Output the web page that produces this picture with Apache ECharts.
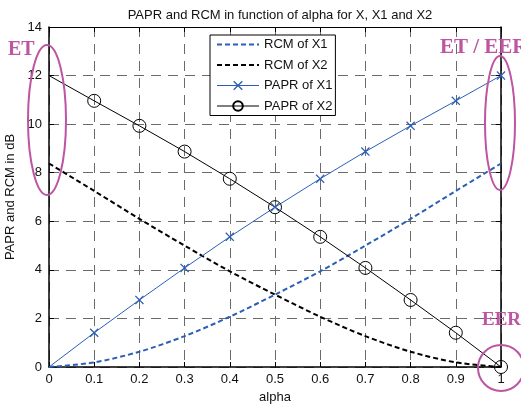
<!DOCTYPE html>
<html><head><meta charset="utf-8">
<script src="https://cdn.jsdelivr.net/npm/echarts@6/dist/echarts.min.js"></script>
<style>html,body{margin:0;padding:0;background:#fff}#c{width:521px;height:407px}</style>
</head><body><div id="c"></div>
<script>
var alpha = [0, 0.1, 0.2, 0.3, 0.4, 0.5, 0.6, 0.7, 0.8, 0.9, 1];
var rcmX1 = [0, 0.19, 0.63, 1.27, 2.07, 2.98, 3.94, 5.0, 6.1, 7.25, 8.38];
var rcmX2 = [8.38, 7.25, 6.1, 5.0, 3.94, 2.98, 2.07, 1.27, 0.63, 0.19, 0];
var paprX1 = [0, 1.41, 2.76, 4.08, 5.36, 6.58, 7.75, 8.87, 9.93, 10.96, 12.0];
var paprX2 = [12.0, 10.96, 9.93, 8.87, 7.75, 6.58, 5.36, 4.08, 2.76, 1.41, 0];
var seriesNames = ['RCM of X1', 'RCM of X2', 'PAPR of X1', 'PAPR of X2'];

var FONT = 'Liberation Sans';
var BLUE = '#2b5fb4';
var MAG = '#bd55a2';
var crossPath = 'path://M0,1L1,0L5,4L9,0L10,1L6,5L10,9L9,10L5,6L1,10L0,9L4,5Z';

function pairs(ys, markerFromIndex) {
  return alpha.map(function (a, i) {
    var d = { value: [a, ys[i]] };
    if (markerFromIndex !== undefined && i < markerFromIndex) d.symbol = 'none';
    return d;
  });
}

var chart = echarts.init(document.getElementById('c'), null, { renderer: 'canvas' });
var gridLine = { show: true, lineStyle: { color: '#6a6a6a', type: [10, 7], width: 1 } };
var hiddenIcon = { color: 'rgba(0,0,0,0)', borderColor: 'rgba(0,0,0,0)', borderWidth: 0 };
var option = {
  animation: false,
  backgroundColor: '#fff',
  title: {
    text: 'PAPR and RCM in function of alpha for X, X1 and X2',
    left: 275, top: 4, textAlign: 'center',
    textStyle: { fontFamily: FONT, fontSize: 13, fontWeight: 'normal', color: '#111' }
  },
  grid: { left: 49, right: 20, top: 27, bottom: 40, outerBoundsMode: 'none', containLabel: false },
  legend: {
    orient: 'vertical', left: 210, top: 35,
    backgroundColor: '#fff', borderColor: '#000', borderWidth: 1,
    padding: [3, 3, 3, 6], itemGap: 7.5, itemWidth: 42, itemHeight: 12,
    textStyle: { fontFamily: FONT, fontSize: 13, color: '#111' },
    data: [
      { name: seriesNames[0], itemStyle: hiddenIcon, lineStyle: { color: BLUE, width: 2, type: [5, 3] } },
      { name: seriesNames[1], itemStyle: hiddenIcon, lineStyle: { color: '#000', width: 2, type: [5, 3] } },
      { name: seriesNames[2], lineStyle: { color: BLUE, width: 1 } },
      { name: seriesNames[3], lineStyle: { color: '#000', width: 1 } }
    ]
  },
  xAxis: [{
    type: 'value', min: 0, max: 1, interval: 0.1,
    name: 'alpha', nameLocation: 'middle', nameGap: 23,
    nameTextStyle: { fontFamily: FONT, fontSize: 13, color: '#111' },
    axisLine: { show: true, onZero: false, lineStyle: { color: '#000', width: 1.5 } },
    axisTick: { show: true, inside: true, length: 5, lineStyle: { color: '#000' } },
    axisLabel: { fontFamily: FONT, fontSize: 13, color: '#111', margin: 6 },
    splitLine: gridLine
  }, {
    type: 'value', min: 0, max: 1, interval: 0.1, position: 'top',
    axisLine: { show: true, onZero: false, lineStyle: { color: '#000', width: 1 } },
    axisTick: { show: true, inside: true, length: 5, lineStyle: { color: '#000' } },
    axisLabel: { show: false }, splitLine: { show: false }
  }],
  yAxis: [{
    type: 'value', min: 0, max: 14, interval: 2,
    name: 'PAPR and RCM in dB', nameLocation: 'middle', nameGap: 29,
    nameTextStyle: { fontFamily: FONT, fontSize: 13, color: '#111' },
    axisLine: { show: true, onZero: false, lineStyle: { color: '#000', width: 1.5 } },
    axisTick: { show: true, inside: true, length: 5, lineStyle: { color: '#000' } },
    axisLabel: { fontFamily: FONT, fontSize: 13, color: '#111', margin: 7 },
    splitLine: gridLine
  }, {
    type: 'value', min: 0, max: 14, interval: 2, position: 'right',
    axisLine: { show: true, onZero: false, lineStyle: { color: '#000', width: 1.5 } },
    axisTick: { show: true, inside: true, length: 5, lineStyle: { color: '#000' } },
    axisLabel: { show: false }, splitLine: { show: false }
  }],
  series: [{
    name: seriesNames[0], type: 'line', data: pairs(rcmX1), smooth: 0.3,
    symbol: 'none', lineStyle: { color: BLUE, width: 2, type: [5, 3] }, itemStyle: { color: BLUE }, z: 3
  }, {
    name: seriesNames[1], type: 'line', data: pairs(rcmX2), smooth: 0.3,
    symbol: 'none', lineStyle: { color: '#000', width: 2, type: [5, 3] }, itemStyle: { color: '#000' }, z: 3
  }, {
    name: seriesNames[2], type: 'line', data: pairs(paprX1, 1),
    symbol: crossPath, symbolSize: 9,
    lineStyle: { color: BLUE, width: 1 }, itemStyle: { color: BLUE }, z: 4
  }, {
    name: seriesNames[3], type: 'line', data: pairs(paprX2, 1),
    symbol: 'circle', symbolSize: 13,
    lineStyle: { color: '#000', width: 1 },
    itemStyle: { color: 'rgba(255,255,255,0)', borderColor: '#000', borderWidth: 1 }, z: 4
  }],
  graphic: [
    { type: 'ellipse', shape: { cx: 47, cy: 120, rx: 19, ry: 75 }, style: { fill: 'none', stroke: MAG, lineWidth: 2 }, z: 100 },
    { type: 'text', left: 8, top: 40, style: { text: 'ET', font: 'bold 20px "Liberation Serif"', fill: MAG }, z: 100 },
    { type: 'ellipse', shape: { cx: 500, cy: 123, rx: 15, ry: 67 }, style: { fill: 'none', stroke: MAG, lineWidth: 2 }, z: 100 },
    { type: 'text', left: 440, top: 37, style: { text: 'ET / EER', font: 'bold 21px "Liberation Serif"', fill: MAG }, z: 100 },
    { type: 'circle', shape: { cx: 501, cy: 368, r: 23 }, style: { fill: 'none', stroke: MAG, lineWidth: 2 }, z: 100 },
    { type: 'text', left: 482, top: 311, style: { text: 'EER', font: 'bold 19px "Liberation Serif"', fill: MAG }, z: 100 }
  ]
};
chart.setOption(option);
</script></body></html>
